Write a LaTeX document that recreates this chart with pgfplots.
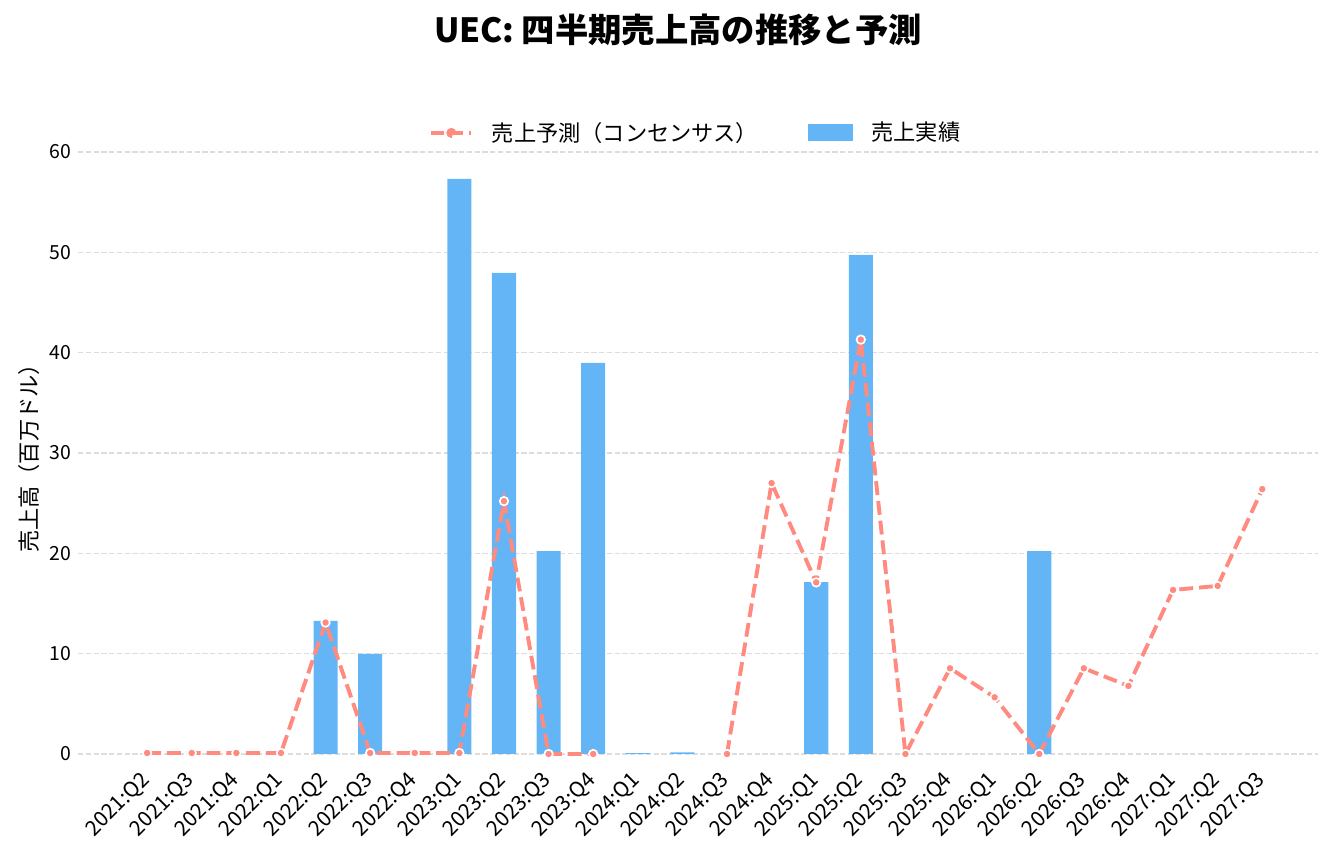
\documentclass[border=0pt]{standalone}
\usepackage{fontspec}
\setmainfont{Noto Sans CJK JP}
\usepackage{pgfplots}
\pgfplotsset{compat=1.18}

\definecolor{fcst}{HTML}{FF8A80}
\definecolor{actual}{HTML}{64B5F6}
\definecolor{gridc}{HTML}{DDDDDD}

\tikzset{
  fcline/.style={fcst, line width=2.1pt, dash pattern=on 7.5pt off 3.2pt},
  fcmark/.style={solid, fill=fcst, draw=white, line width=0.9pt},
}

\begin{document}
\begin{tikzpicture}
% picture frame: 1333x846 px at 0.54pt per px, axis box SW at px (78,759)
\useasboundingbox (-42.12pt,-46.98pt) rectangle (677.7pt,409.86pt);

\begin{axis}[
scale only axis,
width=669.6pt,
height=333.2pt,
xmin=-1.55, xmax=26.25,
ymin=-0.5, ymax=61,
axis line style={draw=none},
tick style={draw=none},
xtick={0,...,25},
xticklabels={2021:Q2,2021:Q3,2021:Q4,2022:Q1,2022:Q2,2022:Q3,2022:Q4,2023:Q1,2023:Q2,2023:Q3,2023:Q4,2024:Q1,2024:Q2,2024:Q3,2024:Q4,2025:Q1,2025:Q2,2025:Q3,2025:Q4,2026:Q1,2026:Q2,2026:Q3,2026:Q4,2027:Q1,2027:Q2,2027:Q3},
xticklabel style={font=\fontsize{11.3}{13}\selectfont, rotate=45, anchor=north east, inner sep=1pt, xshift=-6pt},
ytick={0,10,...,60},
yticklabel style={font=\fontsize{10.5}{12}\selectfont},
/pgf/number format/assume math mode=true,
ymajorgrids,
major grid style={gridc, line width=0.6pt, dash pattern=on 2.8pt off 1.4pt},
reverse legend,
legend columns=2,
legend style={at={(0.499,1.0146)}, anchor=center, draw=none, fill=none,
  font=\fontsize{12}{14}\selectfont,
  /tikz/every odd column/.append style={column sep=8pt},
  /tikz/every even column/.append style={column sep=25pt}},
]
% actual revenue (bars)
\addplot[ybar, bar width=0.54, bar shift=0pt, fill=actual, draw=none,
  legend image code/.code={\fill[actual] (0pt,-4.6pt) rectangle (24.3pt,4.6pt);}]
table[row sep=crcr]{
4	13.26\\
5	9.97\\
6	0.05\\
7	57.31\\
8	47.94\\
9	20.23\\
10	38.97\\
11	0.08\\
12	0.15\\
15	17.12\\
16	49.74\\
20	20.23\\
};
\addlegendentry{売上実績}

% consensus forecast (dashed line)
\addplot[fcline, mark=*, mark size=2.3pt, mark options={fcmark},
  unbounded coords=jump,
  legend image code/.code={
    \draw[fcline, dash pattern=on 7pt off 3.3pt] (0pt,0pt) -- (21.6pt,0pt);
    \fill[fcst] (10.8pt,0pt) circle (1.6pt);}]
table[row sep=crcr]{
0	0.1\\
1	0.1\\
2	0.1\\
3	0.1\\
4	13.1\\
5	0.1\\
6	0.1\\
7	0.1\\
8	25.2\\
9	0.0\\
10	0.0\\
11	nan\\
12	nan\\
13	0.0\\
14	27.0\\
15	17.1\\
16	41.3\\
17	0.0\\
18	8.54\\
19	5.65\\
20	0.0\\
21	8.54\\
22	6.78\\
23	16.35\\
24	16.75\\
25	26.4\\
};
\addlegendentry{売上予測（コンセンサス）}
\end{axis}

\node[font=\fontsize{18}{22}\selectfont\bfseries, anchor=center] at (324pt,393.66pt) {UEC: 四半期売上高の推移と予測};
\node[font=\fontsize{12}{14}\selectfont, rotate=90, anchor=center] at (-26.46pt,165.24pt) {売上高（百万ドル）};
\end{tikzpicture}
\end{document}
